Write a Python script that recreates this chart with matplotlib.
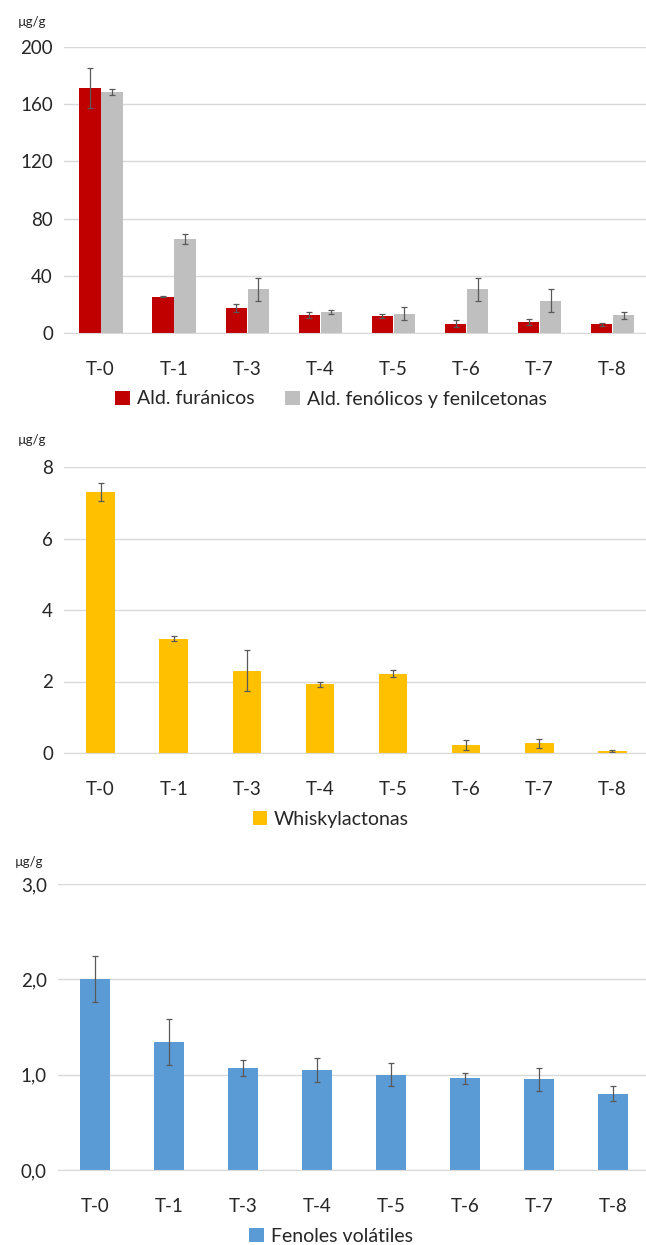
import numpy as np
import matplotlib.pyplot as plt

plt.rcParams['font.family'] = ['Lato', 'DejaVu Sans']

muestras = ["T-0", "T-1", "T-3", "T-4", "T-5", "T-6", "T-7", "T-8"]

# panel 1
furanicos = [171, 25.5, 17.5, 12.5, 12, 6.5, 7.5, 6]
furanicos_err = [14, 0.5, 3, 2, 1.5, 2.5, 2, 1]
fenolicos = [168.5, 65.5, 30.5, 14.5, 13.5, 30.5, 22.5, 12.5]
fenolicos_err = [2, 3.5, 8, 1.5, 4.5, 8, 8, 2.5]

# panel 2
whisky = [7.3, 3.2, 2.3, 1.92, 2.22, 0.22, 0.27, 0.06]
whisky_err = [0.25, 0.07, 0.57, 0.08, 0.1, 0.13, 0.12, 0.02]

# panel 3
fenoles = [2.0, 1.34, 1.07, 1.05, 1.0, 0.96, 0.95, 0.80]
fenoles_err = [0.24, 0.24, 0.08, 0.13, 0.12, 0.06, 0.12, 0.08]

W, H = 646, 1245
fig = plt.figure(figsize=(W / 100, H / 100), dpi=100)
x = np.arange(len(muestras))
ekw = dict(ecolor='#595959', elinewidth=0.9, capsize=2, capthick=0.9)
txt = '#262626'


def estilo(ax, ymax, step, fmt):
    ax.set_xlim(-0.5, 7.5)
    ax.set_ylim(0, ymax)
    ax.set_yticks(np.arange(0, ymax + step / 2, step))
    ax.set_yticklabels([fmt(v) for v in np.arange(0, ymax + step / 2, step)])
    ax.set_xticks(x)
    ax.set_xticklabels(muestras)
    ax.yaxis.grid(True, color='#d9d9d9', linewidth=1)
    ax.set_axisbelow(True)
    for s in ['top', 'right', 'left']:
        ax.spines[s].set_visible(False)
    ax.spines['bottom'].set_color('#d9d9d9')
    ax.tick_params(length=0, labelsize=13.5, colors=txt, pad=8)
    ax.tick_params(axis='x', pad=20)


def leyenda(ax, yc, ncol=1):
    ax.legend(loc='center', bbox_to_anchor=(331 / W, 1 - yc / H),
              bbox_transform=fig.transFigure, ncol=ncol, frameon=False,
              fontsize=14, handlelength=0.75, handleheight=0.75,
              handletextpad=0.35, columnspacing=1.6, labelcolor=txt)


# --- panel 1
ax1 = fig.add_axes([64 / W, 1 - 333 / H, 585 / W, 286 / H])
bw = 0.29
ax1.bar(x - bw / 2, furanicos, bw, yerr=furanicos_err, color='#C00000',
        error_kw=ekw, label='Ald. furánicos')
ax1.bar(x + bw / 2 + 0.01, fenolicos, bw, yerr=fenolicos_err, color='#BFBFBF',
        error_kw=ekw, label='Ald. fenólicos y fenilcetonas')
estilo(ax1, 200, 40, lambda v: f"{v:.0f}")
fig.text(18 / W, 1 - 22 / H, "µg/g", fontsize=9.5, color=txt, va='center')
leyenda(ax1, 399, ncol=2)

# --- panel 2
ax2 = fig.add_axes([64 / W, 1 - 753 / H, 585 / W, 286 / H])
ax2.bar(x, whisky, 0.39, yerr=whisky_err, color='#FFC000', error_kw=ekw,
        label='Whiskylactonas')
estilo(ax2, 8, 2, lambda v: f"{v:.0f}")
fig.text(18 / W, 1 - 440 / H, "µg/g", fontsize=9.5, color=txt, va='center')
leyenda(ax2, 819)

# --- panel 3
ax3 = fig.add_axes([58 / W, 1 - 1170 / H, 592 / W, 286 / H])
ax3.bar(x, fenoles, 0.41, yerr=fenoles_err, color='#5B9BD5', error_kw=ekw,
        label='Fenoles volátiles')
estilo(ax3, 3, 1, lambda v: f"{v:.1f}".replace('.', ','))
fig.text(15 / W, 1 - 862 / H, "µg/g", fontsize=9.5, color=txt, va='center')
leyenda(ax3, 1236)

fig.savefig('out.png', dpi=100)
